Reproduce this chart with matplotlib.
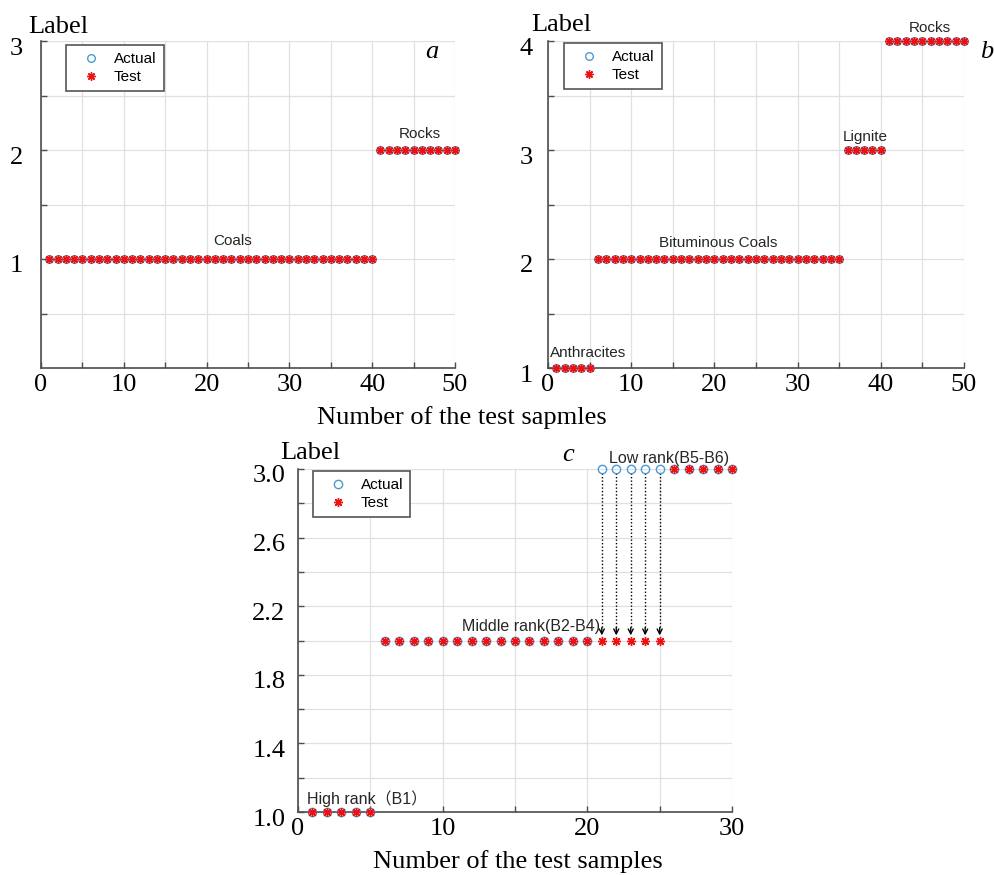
import matplotlib
matplotlib.use('Agg')
import matplotlib.pyplot as plt
import numpy as np
from matplotlib.transforms import ScaledTranslation

# ---------------- data ----------------
samples_a = list(range(1, 51))
actual_a = [1, 1, 1, 1, 1, 1, 1, 1, 1, 1, 1, 1, 1, 1, 1, 1, 1, 1, 1, 1,
            1, 1, 1, 1, 1, 1, 1, 1, 1, 1, 1, 1, 1, 1, 1, 1, 1, 1, 1, 1,
            2, 2, 2, 2, 2, 2, 2, 2, 2, 2]
test_a = [1, 1, 1, 1, 1, 1, 1, 1, 1, 1, 1, 1, 1, 1, 1, 1, 1, 1, 1, 1,
          1, 1, 1, 1, 1, 1, 1, 1, 1, 1, 1, 1, 1, 1, 1, 1, 1, 1, 1, 1,
          2, 2, 2, 2, 2, 2, 2, 2, 2, 2]

samples_b = list(range(1, 51))
actual_b = [1, 1, 1, 1, 1,
            2, 2, 2, 2, 2, 2, 2, 2, 2, 2, 2, 2, 2, 2, 2,
            2, 2, 2, 2, 2, 2, 2, 2, 2, 2, 2, 2, 2, 2, 2,
            3, 3, 3, 3, 3,
            4, 4, 4, 4, 4, 4, 4, 4, 4, 4]
test_b = [1, 1, 1, 1, 1,
          2, 2, 2, 2, 2, 2, 2, 2, 2, 2, 2, 2, 2, 2, 2,
          2, 2, 2, 2, 2, 2, 2, 2, 2, 2, 2, 2, 2, 2, 2,
          3, 3, 3, 3, 3,
          4, 4, 4, 4, 4, 4, 4, 4, 4, 4]

samples_c = list(range(1, 31))
actual_c = [1, 1, 1, 1, 1,
            2, 2, 2, 2, 2, 2, 2, 2, 2, 2, 2, 2, 2, 2, 2,
            3, 3, 3, 3, 3, 3, 3, 3, 3, 3]
test_c = [1, 1, 1, 1, 1,
          2, 2, 2, 2, 2, 2, 2, 2, 2, 2, 2, 2, 2, 2, 2,
          2, 2, 2, 2, 2,
          3, 3, 3, 3, 3]

# tick labels
xticks_ab = [0, 5, 10, 15, 20, 25, 30, 35, 40, 45, 50]
xticklabels_ab = ['0', '', '10', '', '20', '', '30', '', '40', '', '50']
yticks_a = [0.5, 1.0, 1.5, 2.0, 2.5, 3.0]
yticklabels_a = ['', '1', '', '2', '', '3']
yticks_b = [1.0, 1.5, 2.0, 2.5, 3.0, 3.5, 4.0]
yticklabels_b = ['1', '', '2', '', '3', '', '4']
xticks_c = [0, 5, 10, 15, 20, 25, 30]
xticklabels_c = ['0', '', '10', '', '20', '', '30']
yticks_c = [1.0, 1.2, 1.4, 1.6, 1.8, 2.0, 2.2, 2.4, 2.6, 2.8, 3.0]
yticklabels_c = ['1.0', '', '1.4', '', '1.8', '', '2.2', '', '2.6', '', '3.0']

# category annotations: (text, x, y, ha)
notes_a = [('Coals', 23.1, 1.165, 'center'), ('Rocks', 45.8, 2.15, 'center')]
notes_b = [('Anthracites', 4.8, 1.14, 'center'), ('Bituminous Coals', 20.4, 2.15, 'center'),
           ('Lignite', 38.1, 3.12, 'center'), ('Rocks', 45.9, 4.12, 'center')]
notes_c = [('High rank\uff08B1\uff09', 0.62, 1.08, 'left'),
           ('Middle rank(B2-B4)', 20.9, 2.08, 'right'),
           ('Low rank(B5-B6)', 21.5, 3.064, 'left')]

# ---------------- style ----------------
SERIF = 'Liberation Serif'
SANS = ['Liberation Sans', 'Noto Sans CJK SC', 'DejaVu Sans']
CIRC = '#4a9bd1'
STAR = '#ee1111'
AXC = '#4d4d4d'
TXT = '#262626'
TFS = 19

fig = plt.figure(figsize=(9.95, 8.75), dpi=100)


def px(x, y):
    return x / 995.0, 1 - y / 875.0


def make_axes(rect, samples, actual, test, xlim, ylim, xt, xtl, yt, ytl, ypad,
              notes, note_fs, leg_anchor, ms):
    ax = fig.add_axes(rect)
    ax.plot(samples, actual, linestyle='none', marker='o', markersize=ms,
            markerfacecolor='none', markeredgecolor=CIRC, markeredgewidth=1.0,
            label='Actual', zorder=3, clip_on=False)
    ax.plot(samples, test, linestyle='none', marker=(8, 2, 0), markersize=ms + 0.5,
            color=STAR, markeredgewidth=1.0, label='Test', zorder=4, clip_on=False)
    ax.set_xlim(xlim)
    ax.set_ylim(ylim)
    ax.set_xticks(xt)
    ax.set_xticklabels(xtl, fontfamily=SERIF, fontsize=TFS)
    ax.set_yticks(yt)
    ax.set_yticklabels(ytl, fontfamily=SERIF, fontsize=TFS)
    ax.grid(True, color='#e0e0e0', linewidth=0.9)
    ax.set_axisbelow(True)
    for s in ['top', 'right']:
        ax.spines[s].set_visible(False)
    for s in ['left', 'bottom']:
        ax.spines[s].set_color(AXC)
        ax.spines[s].set_linewidth(1.2)
    ax.tick_params(direction='in', length=4, width=1, color=AXC)
    ax.tick_params(axis='x', pad=4)
    ax.tick_params(axis='y', pad=ypad)
    off = ScaledTranslation(0, -5 / 100.0, fig.dpi_scale_trans)
    for lab in ax.get_yticklabels():
        lab.set_transform(lab.get_transform() + off)
    for text, x, y, ha in notes:
        ax.text(x, y, text, ha=ha, va='center', fontsize=note_fs,
                family=SANS, color=TXT, clip_on=False)
    leg = ax.legend(loc='upper left', bbox_to_anchor=leg_anchor, borderaxespad=0,
                    numpoints=1, prop={'family': SANS, 'size': 11},
                    fancybox=False, framealpha=1, edgecolor='#555555',
                    borderpad=0.45, labelspacing=0.3, handlelength=2.4,
                    handletextpad=0.3)
    leg.get_frame().set_linewidth(1.2)
    return ax


ax_a = make_axes([41 / 995, 1 - 368 / 875, 414 / 995, 327 / 875],
                 samples_a, actual_a, test_a, (0, 50), (0, 3),
                 xticks_ab, xticklabels_ab, yticks_a, yticklabels_a, 13,
                 notes_a, 11, ((66 - 41) / 414, 1 - 4 / 327), 5.5)
ax_b = make_axes([548 / 995, 1 - 368 / 875, 416 / 995, 327 / 875],
                 samples_b, actual_b, test_b, (0, 50), (1, 4),
                 xticks_ab, xticklabels_ab, yticks_b, yticklabels_b, 11,
                 notes_b, 11, ((564 - 548) / 416, 1 - 2 / 327), 5.5)
ax_c = make_axes([298 / 995, 1 - 812 / 875, 434 / 995, 343 / 875],
                 samples_c, actual_c, test_c, (0, 30), (1, 3),
                 xticks_c, xticklabels_c, yticks_c, yticklabels_c, 9,
                 notes_c, 11.5, ((313 - 298) / 434, 1 - 2 / 343), 6)

# misclassification arrows in c
for x, a, t in zip(samples_c, actual_c, test_c):
    if a != t:
        ax_c.plot([x, x], [a - 0.025, t + 0.07], linestyle=(0, (1, 1.5)),
                  color='black', linewidth=1.0, zorder=2)
        ax_c.annotate('', xy=(x, t + 0.03), xytext=(x, t + 0.075),
                      arrowprops=dict(arrowstyle='->,head_length=0.35,head_width=0.18',
                                      color='black', lw=1.0, shrinkA=0, shrinkB=0),
                      zorder=2)

# axis labels / panel letters
fig.text(*px(28, 27), 'Label', family=SERIF, fontsize=TFS, ha='left', va='center')
fig.text(*px(531, 25), 'Label', family=SERIF, fontsize=TFS, ha='left', va='center')
fig.text(*px(280, 453), 'Label', family=SERIF, fontsize=TFS, ha='left', va='center')
fig.text(*px(432, 52), 'a', family=SERIF, style='italic', fontsize=TFS, ha='center', va='center')
fig.text(*px(987, 52), 'b', family=SERIF, style='italic', fontsize=TFS, ha='center', va='center')
fig.text(*px(568, 455), 'c', family=SERIF, style='italic', fontsize=TFS, ha='center', va='center')
fig.text(*px(462, 418), 'Number of the test sapmles', family=SERIF, fontsize=TFS,
         ha='center', va='center')
fig.text(*px(518, 862), 'Number of the test samples', family=SERIF, fontsize=TFS,
         ha='center', va='center')

fig.savefig('out.png', dpi=100)
